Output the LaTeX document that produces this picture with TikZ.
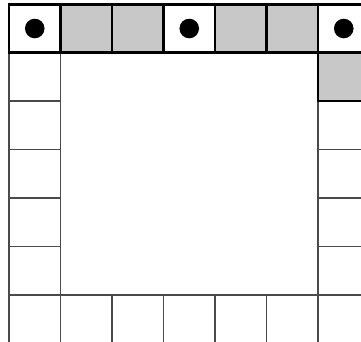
\documentclass[tikz,border=0pt]{standalone}
\definecolor{cellgray}{HTML}{C8C8C8}
\definecolor{thinline}{HTML}{4A4A4A}
\tikzset{
  thinrule/.style={draw=thinline, line width=1.9pt},
  thickrule/.style={draw=black, line width=2.6pt},
  shaded/.style={fill=cellgray},
  dot/.style={fill=black}
}
\begin{document}
\begin{tikzpicture}[x=1pt,y=-1pt]
\useasboundingbox (0,0) rectangle (361,341);
\clip (0,0) rectangle (361,341);
% column lines x: 9, 60.5, 112, 163.5, 215, 266.5, 318, 369.5
% row lines y: 4.5, 52.5, 101, 149.5, 198, 246.5, 295
% gray cells
\fill[shaded] (60.5,4.5) rectangle (163.5,52.5);
\fill[shaded] (215,4.5) rectangle (318,52.5);
\fill[shaded] (318,52.5) rectangle (369.5,101);
% thin lines
\draw[thinrule] (9,52.5) -- (9,345);
\draw[thinrule] (60.5,52.5) -- (60.5,345);
\foreach \y in {101,149.5,198,246.5} \draw[thinrule] (9,\y) -- (60.5,\y);
\draw[thinrule] (9,295) -- (365,295);
\foreach \x in {112,163.5,215,266.5} \draw[thinrule] (\x,295) -- (\x,345);
\draw[thinrule] (318,52.5) -- (318,345);
\foreach \y in {149.5,198,246.5} \draw[thinrule] (318,\y) -- (365,\y);
% thick top row
\draw[thickrule] (9,4.5) rectangle (369.5,52.5);
\foreach \x in {60.5,112,163.5,215,266.5,318} \draw[thickrule] (\x,4.5) -- (\x,52.5);
\draw[thickrule] (318,52.5) -- (318,101) -- (369.5,101);
% dots
\foreach \x in {34.75,189.25,343.75} \fill[dot] (\x,28.5) circle (9.8);
\end{tikzpicture}
\end{document}
